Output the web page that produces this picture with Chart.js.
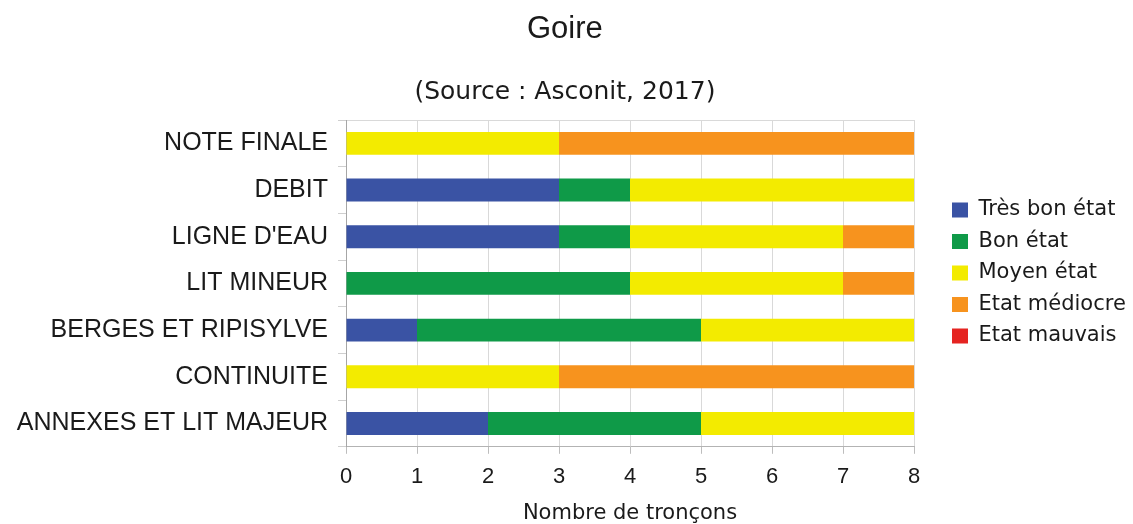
<!DOCTYPE html>
<html lang="fr">
<head>
  <meta charset="UTF-8" />
  <title>Goire</title>
  <script src="https://cdn.jsdelivr.net/npm/chart.js"></script>
  <style>
    * { margin: 0; padding: 0; box-sizing: border-box; }
    body { background: #fff; width: 1133px; height: 524px; overflow: hidden; }
    .chart-box { position: relative; width: 1133px; height: 524px; }
  </style>
</head>
<body>
  <div class="chart-box">
    <canvas id="etatChart"></canvas>
  </div>

  <script>
    // categories, top to bottom
    const categories = [
      'NOTE FINALE',
      'DEBIT',
      "LIGNE D'EAU",
      'LIT MINEUR',
      'BERGES ET RIPISYLVE',
      'CONTINUITE',
      'ANNEXES ET LIT MAJEUR'
    ];

    // number of reaches per state
    const tresBon   = [0, 3, 3, 0, 1, 0, 2];
    const bon       = [0, 1, 1, 4, 4, 0, 3];
    const moyen     = [3, 4, 3, 3, 3, 3, 3];
    const mediocre  = [5, 0, 1, 1, 0, 5, 0];
    const mauvais   = [0, 0, 0, 0, 0, 0, 0];

    const xTicks = [0, 1, 2, 3, 4, 5, 6, 7, 8];

    const SANS = "'Liberation Sans', Arial, sans-serif";
    const DEJAVU = "'DejaVu Sans', sans-serif";

    Chart.defaults.font.family = SANS;
    Chart.defaults.color = '#1a1a1a';

    const bar = (label, data, color) => ({
      label,
      data,
      backgroundColor: color,
      borderWidth: 0,
      categoryPercentage: 1,
      barPercentage: 0.49
    });

    new Chart(document.getElementById('etatChart'), {
      type: 'bar',
      data: {
        labels: categories,
        datasets: [
          bar('Très bon état', tresBon, '#3a53a4'),
          bar('Bon état', bon, '#0f9a48'),
          bar('Moyen état', moyen, '#f3eb00'),
          bar('Etat médiocre', mediocre, '#f7931e'),
          bar('Etat mauvais', mauvais, '#e52421')
        ]
      },
      options: {
        indexAxis: 'y',
        responsive: true,
        maintainAspectRatio: false,
        animation: false,
        layout: { padding: { left: 0, top: 0, bottom: 0, right: 3.2 } },
        plugins: {
          title: {
            display: true,
            text: 'Goire',
            color: '#1a1a1a',
            font: { size: 31, weight: 'normal' },
            padding: { top: 10.4, bottom: 0 }
          },
          subtitle: {
            display: true,
            text: '(Source : Asconit, 2017)',
            color: '#1a1a1a',
            font: { family: DEJAVU, size: 25 },
            padding: { top: 29.4, bottom: 13 }
          },
          legend: {
            position: 'right',
            align: 'start',
            fullSize: false,
            title: { display: true, text: '', font: { size: 10, lineHeight: 1 }, padding: { top: 0, bottom: 59 } },
            labels: {
              boxWidth: 16,
              boxHeight: 15,
              padding: 10.5,
              color: '#1a1a1a',
              font: { family: DEJAVU, size: 21 }
            }
          },
          tooltip: { enabled: false }
        },
        scales: {
          x: {
            stacked: true,
            min: 0,
            max: 8,
            afterBuildTicks: s => { s.ticks = xTicks.map(v => ({ value: v })); },
            grid: { color: '#d9d9d9', tickLength: 7, tickColor: '#bdbdbd' },
            border: { color: '#b3b3b3' },
            ticks: { padding: 10, color: '#1a1a1a', font: { size: 22 } },
            title: {
              display: true,
              text: 'Nombre de tronçons',
              color: '#1a1a1a',
              font: { family: DEJAVU, size: 21, lineHeight: 1 },
              padding: { top: 2.8, bottom: 0 }
            }
          },
          xTop: {
            type: 'linear',
            position: 'top',
            min: 0,
            max: 8,
            grid: { display: false },
            ticks: { display: false },
            border: { color: '#d9d9d9' },
            afterFit: s => { s.height = 0; }
          },
          y: {
            stacked: true,
            afterFit: s => { s.width = 346; },
            grid: { drawOnChartArea: false, tickLength: 8, color: '#cfcfcf', offset: true },
            border: { color: '#a6a6a6' },
            ticks: { padding: 10, color: '#1a1a1a', font: { size: 25 } }
          },
          gap: {
            type: 'category',
            position: 'right',
            grid: { display: false },
            border: { display: false },
            ticks: { display: false },
            afterFit: s => { s.width = 27.5; }
          }
        }
      }
    });
  </script>
</body>
</html>
